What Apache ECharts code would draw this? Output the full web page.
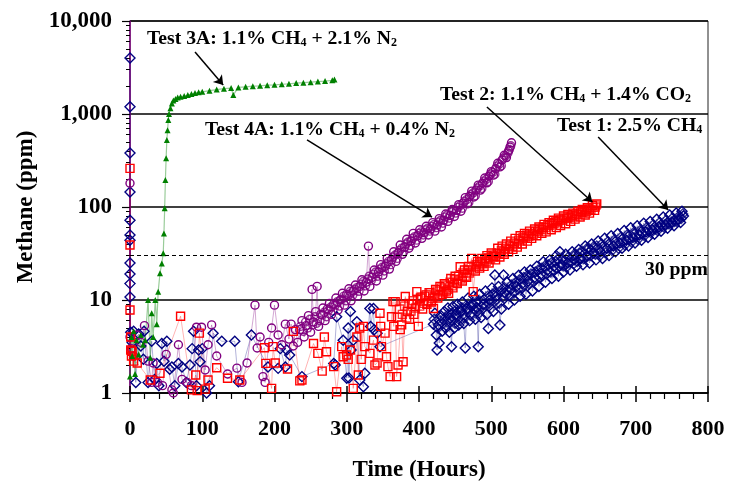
<!DOCTYPE html>
<html>
<head>
<meta charset="utf-8">
<script src="https://cdn.jsdelivr.net/npm/echarts@6/dist/echarts.min.js"></script>
<style>
html, body { margin: 0; padding: 0; background: #fff; }
#chart-container { width: 731px; height: 491px; }
</style>
</head>
<body>
<div id="chart-container"></div>
<script>
// tick values
const yMajorTicks = [1, 10, 100, 1000, 10000];
const yMinorTicks = [2, 3, 4, 5, 6, 7, 8, 9, 20, 30, 40, 50, 60, 70, 80, 90,
	200, 300, 400, 500, 600, 700, 800, 900, 2000, 3000, 4000, 5000, 6000, 7000, 8000, 9000];

// [hours, ppm]
const test1 = [
	[0, 4000], [0, 1200], [0, 380], [0, 145], [0, 72], [0, 50], [0, 44], [0, 25], [0, 19], [0, 15], [0, 10.8],
	[1, 4.5], [3, 3.5], [5, 4.6], [8, 1.3], [12, 4.3], [15, 3.2], [18.5, 2.3], [19.4, 4.6], [25, 1.3],
	[30, 3.6], [34, 1.4], [37, 2.08], [40, 1.2], [44, 3.4], [47, 2.2], [51, 3.6], [55, 1.8], [58, 1.9],
	[62, 1.2], [67, 2.08], [72, 1.9], [78, 1.3], [83, 2.0], [86, 3.0], [88, 4.6], [92, 1.2], [95, 2.9],
	[97, 2.17], [100, 3.0], [106, 1.0], [110, 1.2], [115, 4.4], [127, 3.6], [145, 3.6], [150, 1.32],
	[168, 4.2], [191, 1.9], [205, 1.84], [208, 3.0], [215, 1.9], [217, 2.9], [221, 2.56], [238, 1.5],
	[282, 2.08], [284, 2.0], [286, 6.6], [295, 3.7], [300, 1.44], [302, 5.0], [303, 1.45], [305, 7.5],
	[306, 2.9], [309, 3.7], [314, 5.85], [318, 1.38], [323, 1.17], [325, 1.63], [332, 8.1], [333, 5.2],
	[337, 8.1], [338, 4.8], [342, 4.4], [346, 3.15],
	[420, 5.5], [422, 7.2], [424, 4.2], [425, 2.9], [427, 5.4], [428, 3.45], [430, 6.8], [432, 4.6],
	[435, 7.5], [437, 5.0], [440, 8.2], [442, 4.5], [443, 6.4], [445, 3.15], [447, 8.5], [449, 5.0],
	[451, 7.0], [453, 9.0], [455, 5.4], [458, 7.5], [460, 9.5], [462, 5.6], [464, 3.05], [466, 8.0],
	[468, 10.5], [470, 6.0], [473, 8.5], [476, 11], [478, 6.2], [480, 8.3], [482, 3.15], [484, 11.5],
	[486, 6.5], [489, 9.0], [492, 12.5], [494, 7.0], [496, 4.95], [498, 10], [501, 13.5], [503, 7.5],
	[505, 18.6], [507, 11], [510, 14], [512, 5.4], [514, 8.0], [517, 18.6], [519, 12], [522, 15.5],
	[524, 9.0], [527, 13], [530, 17], [532, 10], [535, 14], [538, 18.5], [540, 11], [543, 15], [546, 20],
	[548, 11.5], [551, 16], [554, 21], [557, 12.5], [560, 17.5], [563, 23], [566, 14], [569, 19],
	[572, 25.8], [575, 15.5], [578, 21], [581, 27], [584, 17], [587, 23], [590, 30], [593, 18], [595, 33],
	[597, 24], [600, 20], [603, 31], [606, 25], [609, 21], [612, 33], [615, 27], [618, 23], [621, 35],
	[624, 28], [627, 24], [630, 38], [633, 30], [636, 25], [639, 40], [642, 32], [645, 27], [648, 43],
	[651, 33], [654, 28], [657, 46], [660, 36], [663, 30], [666, 49], [669, 38], [672, 33], [675, 52],
	[678, 41], [681, 36], [684, 56], [687, 44], [690, 38], [693, 60], [696, 47], [699, 41], [702, 63],
	[705, 50], [708, 44], [711, 67], [714, 54], [717, 47], [720, 70], [723, 57], [726, 51], [729, 74],
	[732, 61], [735, 55], [738, 78], [741, 65], [744, 59], [747, 82], [750, 69], [753, 63], [756, 86],
	[759, 74], [762, 68], [764, 90], [766, 80]
];
// more readings inside the dense Test 1 band
const test1Band = [
	[421, 6.2], [426, 5.0], [429, 6.0], [433, 5.6], [436, 6.4], [439, 5.8], [441, 7.0], [444, 6.0], [446, 7.2],
	[448, 6.5], [450, 5.6], [452, 7.8], [454, 6.8], [457, 6.0], [459, 8.2], [461, 7.0], [463, 6.4], [465, 8.6],
	[467, 7.4], [469, 8.0], [472, 6.8], [474, 9.0], [477, 7.8], [479, 9.4], [481, 8.0], [483, 7.2], [485, 9.6],
	[487, 8.4], [490, 10.2], [493, 8.8], [495, 11], [497, 9.2], [500, 8.2], [502, 11.5], [504, 9.6], [506, 12.2],
	[508, 10.2], [511, 9.2], [513, 12.4], [516, 10.8], [518, 13.6], [521, 11.4], [523, 12.8], [526, 11],
	[528, 14.5], [531, 12.2], [534, 15.5], [537, 13], [539, 16.5], [542, 13.8], [545, 17.5], [547, 14.6],
	[550, 18.2], [552, 15], [555, 19], [558, 16], [561, 20], [562, 16.8], [565, 21], [567, 17.5], [570, 22],
	[571, 18.2], [574, 23], [577, 19], [579, 24], [582, 20], [583, 25], [586, 21], [589, 26], [591, 22],
	[592, 27.5], [594, 23], [598, 28], [599, 23.5], [601, 26.5], [604, 22.5], [607, 29], [610, 25.5], [613, 30],
	[614, 24.5], [617, 31], [619, 26], [622, 32], [623, 27.5], [626, 33.5], [628, 28], [631, 35], [632, 29],
	[635, 36], [637, 30], [638, 34], [641, 37], [644, 31], [646, 38], [649, 35], [650, 30], [653, 40], [656, 36],
	[658, 32], [661, 42], [664, 38], [667, 34], [670, 44], [673, 40], [676, 36], [679, 47], [682, 42], [685, 39],
	[688, 50], [691, 45], [694, 42], [697, 53], [700, 48], [703, 45], [706, 56], [709, 52], [712, 49], [715, 60],
	[718, 55], [721, 53], [724, 64], [727, 58], [730, 56], [733, 68], [736, 62], [739, 61], [742, 72], [745, 66],
	[748, 65], [751, 76], [754, 70], [757, 70], [760, 80], [763, 75], [765, 84]
];

const test2 = [
	[0, 260], [0, 39], [0, 7.8], [1, 4.0], [1, 2.9], [2, 2.5], [3, 2.8], [5, 2.2], [10, 2.1], [28, 1.38],
	[41.5, 1.63], [70, 6.7], [85, 1.08], [91, 1.56], [93, 1.06], [96, 4.4], [104, 1.1], [108, 1.38],
	[120, 1.87], [135, 1.44], [152, 1.38], [186, 3.07], [188, 2.08], [196, 1.12], [198, 3.15], [201, 2.1],
	[218, 1.81], [226, 4.6], [235, 1.35], [238, 1.38], [254, 3.4], [260, 2.67], [266, 1.72], [269, 4.0],
	[272, 2.78], [282, 1.92], [286, 1.03], [293, 3.15], [295, 2.45], [300, 2.56], [302, 2.3], [305, 2.9],
	[309, 1.12], [314, 4.0], [316, 1.56], [318, 5.0], [320, 2.3], [323, 5.2], [325, 3.15], [332, 2.67],
	[337, 3.7], [339, 2.0], [342, 2.1], [346, 7.2], [347, 5.2], [348, 3.15], [353, 4.4], [355, 2.45],
	[357, 1.92], [360, 1.5], [362, 6.6], [364, 9.6], [365, 5.2], [367, 9.6], [369, 1.5], [371, 2.0],
	[374, 4.8], [376, 5.4], [378, 2.17], [381, 10.9], [384, 7.5], [387, 6.2], [390, 9.0], [393, 7.0],
	[397, 12.3], [399, 5.2], [402, 10.5], [405, 8.0], [408, 11], [411, 9.0], [414, 12], [417, 9.5],
	[420, 8.1], [423, 13], [426, 10.5], [429, 14], [432, 11.5], [435, 15], [438, 12.5], [441, 11.8],
	[444, 17], [447, 13.5], [450, 18], [453, 15], [457, 22.8], [460, 16], [463, 21], [466, 17.5],
	[469, 23], [473, 28], [475, 12.3], [478, 20.5], [481, 26], [484, 22], [487, 28], [490, 23], [494, 30],
	[497, 25], [500, 32], [503, 29.2], [506, 27], [509, 36], [512, 29], [515, 38], [518, 31], [521, 40],
	[524, 33], [527, 43], [530, 35], [533, 46], [536, 37], [540, 49], [543, 40], [546, 52], [550, 43],
	[553, 55], [556, 46], [560, 58], [563, 49], [566, 61], [570, 52], [573, 65], [576, 54], [580, 68],
	[583, 57], [586, 72], [590, 60], [593, 76], [596, 63], [600, 80], [603, 66], [606, 83], [610, 70],
	[613, 86], [616, 74], [620, 90], [623, 78], [626, 94], [630, 82], [633, 98], [636, 86], [640, 104],
	[643, 92], [646, 108]
];
const test2Band = [
	[370, 6.5], [373, 8.0], [377, 7.0], [380, 8.6], [383, 6.4], [386, 9.2], [389, 7.6], [392, 9.8], [395, 8.2],
	[398, 10.2], [401, 8.6], [404, 10.8], [407, 9.2], [410, 11.4], [413, 9.8], [416, 12], [419, 10.4], [422, 11],
	[425, 12.5], [428, 11.2], [431, 13.5], [434, 12.2], [437, 14.5], [440, 13], [443, 15.5], [446, 14.2],
	[449, 16.5], [452, 15.5], [455, 18], [458, 16.8], [461, 19.5], [464, 18], [467, 21], [470, 19.5], [472, 22.5],
	[476, 21.5], [479, 24], [482, 23], [485, 25.5], [488, 24.5], [491, 27], [493, 26], [496, 28.5], [499, 27.5],
	[502, 30.5], [505, 29.5], [508, 32], [511, 31.5], [514, 34], [517, 33], [520, 36], [523, 35], [526, 38.5],
	[529, 37.5], [532, 41], [535, 40], [538, 44], [541, 43], [544, 47], [547, 46], [549, 50], [552, 48.5],
	[555, 52], [558, 51], [561, 55], [564, 54], [567, 58], [569, 57], [572, 61], [575, 60], [578, 64], [581, 63],
	[584, 67], [587, 66], [589, 70], [592, 69], [595, 73], [598, 72], [601, 76], [604, 75], [607, 78], [609, 77],
	[612, 81], [615, 80], [618, 84], [621, 83], [624, 88], [627, 87], [629, 91], [632, 90], [635, 95], [638, 94],
	[641, 99], [644, 100], [645, 105]
];

const test3a = [
	[0, 1.5], [2, 4.0], [3, 2.5], [5, 4.6], [7, 1.6], [9, 3.7], [12, 2.6], [15, 4.2], [18, 3.3], [21, 3.7],
	[25, 10], [28, 2.4], [30, 7.2], [32, 4.0], [35, 10], [37, 5.5], [39, 12.3], [41.5, 19.4], [44, 24.7],
	[46, 31.8], [47, 52], [48, 97], [49, 195], [50, 335], [51, 526], [52, 670], [53, 860], [54, 1000],
	[56, 1150], [58, 1300], [60, 1400], [63, 1450], [66, 1500], [70, 1530], [75, 1560], [80, 1600],
	[85, 1640], [90, 1680], [95, 1710], [100, 1730], [110, 1780], [120, 1830], [130, 1870], [140, 1900],
	[143, 1600], [150, 1930], [160, 1960], [170, 1990], [180, 2010], [190, 2040], [200, 2060], [210, 2090],
	[220, 2110], [230, 2150], [240, 2170], [250, 2200], [260, 2230], [270, 2260], [280, 2300], [283, 2350]
];

const test4a = [
	[0, 180], [0, 4], [2, 3], [5, 2.5], [10, 4.2], [15, 3.5], [20, 5.3], [25, 2.2], [30, 1.3], [32, 2.1],
	[38, 1.3], [45, 1.2], [50, 2.6], [58, 1.08], [60, 1.0], [67, 3.3], [72, 1.4], [79, 1.3], [85, 1.2],
	[92, 5.1], [99, 5.1], [104, 1.77], [108, 3.3], [113, 5.4], [120, 2.5], [135, 1.6], [148, 1.85],
	[155, 1.3], [162, 2.1], [173, 8.8], [176, 3.05], [180, 4], [184, 1.5], [187, 1.3], [192, 3.5],
	[196, 5.0], [200, 8.8], [205, 4.2], [210, 3.3], [215, 5.5],
	[220, 3.8], [223, 5.5], [226, 3.2], [229, 4.8], [232, 3.5], [235, 4.8], [238, 6.0], [241, 4.0],
	[244, 5.3], [247, 6.8], [250, 4.5], [252, 13], [254, 5.8], [257, 7.5], [259, 14], [261, 5.2], [264, 7.0],
	[267, 8.2], [270, 6.0], [273, 8.0], [276, 9.2], [279, 7.0], [282, 9.0], [285, 10.5], [288, 7.8],
	[291, 10], [294, 11.8], [297, 8.8], [300, 11.5], [303, 13.2], [306, 9.8], [309, 12.5], [312, 14.5],
	[315, 11], [318, 14], [321, 16.5], [324, 12.5], [327, 15.5], [330, 38], [332, 14], [335, 17.5],
	[338, 21], [341, 16], [344, 20], [347, 24], [350, 18.5], [353, 23], [356, 28], [359, 21.5], [362, 27],
	[365, 33], [368, 26], [371, 32], [374, 39], [377, 31], [380, 37], [383, 45], [386, 36], [389, 43],
	[392, 52], [395, 41], [398, 49], [401, 57], [404, 46], [407, 53], [410, 62], [413, 50], [416, 58],
	[419, 68], [422, 55], [425, 64], [428, 75], [431, 61], [434, 72], [437, 84], [440, 70], [443, 81],
	[446, 94], [449, 79], [452, 92], [455, 106], [458, 90], [461, 110], [464, 126], [467, 108], [470, 130],
	[473, 148], [476, 128], [479, 152], [482, 172], [485, 152], [488, 180], [491, 205], [494, 182],
	[497, 215], [500, 240], [503, 220], [506, 258], [509, 295], [512, 270], [515, 320], [518, 360],
	[521, 340], [524, 400], [526, 440], [528, 490]
];
const test4aBand = [
	[236, 5.2], [240, 4.6], [243, 5.8], [246, 5.0], [249, 6.2], [253, 5.4], [256, 6.6], [258, 5.6], [263, 6.0],
	[266, 6.9], [269, 7.4], [272, 6.6], [275, 7.8], [278, 8.4], [281, 7.6], [284, 8.8], [287, 9.6], [290, 8.6],
	[293, 10.2], [296, 11], [299, 9.8], [302, 11.2], [305, 12.4], [308, 11.2], [311, 13], [314, 13.6],
	[317, 12.4], [320, 14.8], [323, 15.8], [326, 14.2], [329, 16.8], [331, 18], [334, 16.2], [337, 19],
	[340, 20], [343, 18], [346, 21.5], [349, 22.5], [352, 20.5], [355, 24.5], [358, 26], [361, 24], [364, 29],
	[367, 30.5], [370, 28], [373, 34], [376, 36], [379, 33], [382, 40], [385, 42], [388, 38.5], [391, 46],
	[394, 48], [397, 44], [400, 52], [403, 54], [406, 50], [409, 57], [412, 59], [415, 55], [418, 62], [421, 65],
	[424, 60], [427, 69], [430, 72], [433, 67], [436, 78], [439, 82], [442, 76], [445, 88], [448, 92], [451, 86],
	[454, 99], [457, 104], [460, 97], [463, 115], [466, 120], [469, 112], [472, 136], [475, 142], [478, 132],
	[481, 160], [484, 168], [487, 158], [490, 190], [493, 198], [496, 188], [499, 226], [502, 236], [505, 225],
	[508, 275], [511, 288], [514, 278], [517, 335], [520, 355], [523, 378], [525, 415], [527, 455]
];

// arrow start / end for the callouts, in [hours, ppm]
const arrows = [
	[[90, 4645], [129, 2050]],
	[[245, 526], [418, 78]],
	[[494, 1189], [640, 113]],
	[[648, 566], [745, 93]]
];
const limitPpm = 30;

const serif = '"Liberation Serif", "Times New Roman", serif';

let dom = document.getElementById('chart-container');
let myChart = echarts.init(dom, null, { renderer: 'canvas' });

function hollow(color, symbol, size, lineColor, data, name) {
	return {
		name: name,
		type: 'line',
		data: data,
		symbol: symbol,
		symbolSize: size,
		showAllSymbol: true,
		itemStyle: { color: 'rgba(0,0,0,0)', borderColor: color, borderWidth: 1.4 },
		lineStyle: { color: lineColor, width: 1 },
		emphasis: { disabled: true },
	};
}
function hollowDots(color, symbol, size, data, name) {
	return {
		name: name,
		type: 'scatter',
		data: data,
		symbol: symbol,
		symbolSize: size,
		itemStyle: { color: 'rgba(0,0,0,0)', borderColor: color, borderWidth: 1.4 },
		emphasis: { disabled: true },
	};
}

const subRich = {
	s: { fontSize: 12, fontWeight: 'bold', fontFamily: serif, fill: '#000', verticalAlign: 'bottom' },
};
function callout(x, y, text) {
	return {
		type: 'text',
		x: x,
		y: y,
		style: {
			text: text,
			fill: '#000',
			font: 'bold 19.7px ' + serif,
			verticalAlign: 'middle',
			rich: subRich,
		},
	};
}

let option = {
	animation: false,
	backgroundColor: '#fff',
	grid: {
		left: 130,
		right: 23,
		top: 21,
		bottom: 98,
		show: true,
		borderColor: '#222',
		borderWidth: 1,
	},
	xAxis: [
		{
			type: 'value',
			min: 0,
			max: 800,
			interval: 100,
			axisLine: { lineStyle: { color: '#000', width: 1.5 } },
			axisTick: { show: true, length: 9, lineStyle: { color: '#000', width: 1.5 } },
			minorTick: { show: true, splitNumber: 5, length: 6, lineStyle: { color: '#000', width: 1.2 } },
			splitLine: { show: false },
			axisLabel: { fontFamily: serif, fontWeight: 'bold', fontSize: 22, color: '#000', margin: 25 },
			name: 'Time (Hours)',
			nameLocation: 'middle',
			nameGap: 66,
			nameTextStyle: { fontFamily: serif, fontWeight: 'bold', fontSize: 23, color: '#000' },
		},
		{
			type: 'value',
			min: 0,
			max: 800,
			interval: 100,
			position: 'bottom',
			axisLine: { show: false },
			axisTick: { show: true, inside: true, length: 7, lineStyle: { color: '#000', width: 1.5 } },
			axisLabel: { show: false },
			splitLine: { show: false },
		},
	],
	yAxis: [
		{
			type: 'log',
			logBase: 10,
			min: 1,
			max: 10000,
			axisLine: { show: true, lineStyle: { color: '#800080', width: 1.5 } },
			axisTick: { show: true, length: 8, customValues: yMajorTicks, lineStyle: { color: '#000', width: 1.2 } },
			axisLabel: {
				customValues: yMajorTicks,
				fontFamily: serif,
				fontWeight: 'bold',
				fontSize: 23,
				color: '#000',
				margin: 18,
				formatter: function (v) {
					return Math.round(v).toLocaleString('en-US');
				},
			},
			splitLine: { show: true, lineStyle: { color: '#000', width: 1.5 } },
			name: 'Methane (ppm)',
			nameLocation: 'middle',
			nameGap: 92,
			nameTextStyle: { fontFamily: serif, fontWeight: 'bold', fontSize: 23, color: '#000' },
		},
		{
			type: 'log',
			logBase: 10,
			min: 1,
			max: 10000,
			position: 'left',
			axisLine: { show: false },
			axisTick: { show: true, length: 4, customValues: yMinorTicks, lineStyle: { color: '#000', width: 1 } },
			axisLabel: { show: false },
			splitLine: { show: false },
		},
	],
	series: [
		hollow('#000080', 'diamond', 10, 'rgba(0,0,128,0.3)', test1, 'Test 1'),
		hollowDots('#000080', 'diamond', 10, test1Band, 'Test 1 band'),
		hollow('#800080', 'circle', 8, 'rgba(128,0,128,0.35)', test4a, 'Test 4A'),
		hollowDots('#800080', 'circle', 8, test4aBand, 'Test 4A band'),
		hollow('#ff0000', 'rect', 8, 'rgba(255,0,0,0.3)', test2, 'Test 2'),
		hollowDots('#ff0000', 'rect', 8, test2Band, 'Test 2 band'),
		{
			name: 'Test 3A',
			type: 'line',
			data: test3a,
			symbol: 'triangle',
			symbolSize: 6,
			showAllSymbol: true,
			itemStyle: { color: '#008000' },
			lineStyle: { color: 'rgba(0,128,0,0.4)', width: 1.2 },
			emphasis: { disabled: true },
			markLine: {
				silent: true,
				symbol: ['none', 'arrow'],
				symbolSize: 9,
				label: { show: false },
				lineStyle: { color: '#000', width: 1.5, type: 'solid' },
				data: arrows.map(function (a) {
					return [{ coord: a[0] }, { coord: a[1] }];
				}),
			},
		},
		{
			name: 'limit',
			type: 'line',
			data: [],
			markLine: {
				silent: true,
				symbol: ['none', 'none'],
				label: { show: false },
				lineStyle: { color: '#000', width: 1, type: [4, 3] },
				data: [{ yAxis: limitPpm }],
			},
		},
	],
	graphic: [
		callout(147, 39, 'Test 3A: 1.1% CH{s|4} + 2.1% N{s|2}'),
		callout(205, 130, 'Test 4A: 1.1% CH{s|4} + 0.4% N{s|2}'),
		callout(440, 95, 'Test 2: 1.1% CH{s|4} + 1.4% CO{s|2}'),
		callout(557, 126, 'Test 1: 2.5% CH{s|4}'),
		{
			type: 'text',
			x: 645,
			y: 270,
			style: { text: '30 ppm', fill: '#000', font: 'bold 19.7px ' + serif, verticalAlign: 'middle' },
		},
	],
};

myChart.setOption(option);
window.addEventListener('resize', myChart.resize);
</script>
</body>
</html>
